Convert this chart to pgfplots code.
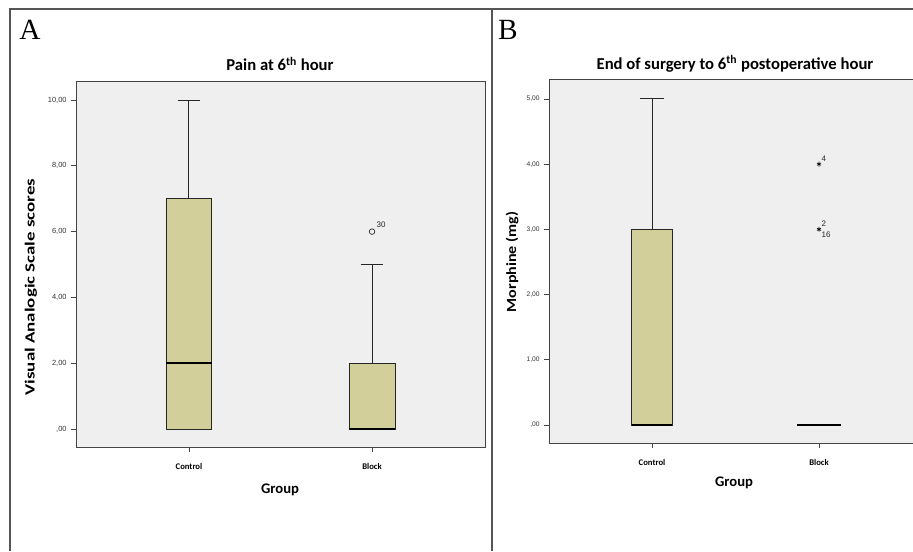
\documentclass[border=0pt]{standalone}
\usepackage{pgfplots}
\pgfplotsset{compat=1.18}
\usepgfplotslibrary{statistics}
\usepackage{fontspec}
\setmainfont{Liberation Sans}
\newfontfamily\carl{Carlito}
\newfontfamily\tnr{Liberation Serif}
\definecolor{boxfill}{HTML}{D3CF9B}
\definecolor{bg}{HTML}{EFEFEF}
\definecolor{frm}{HTML}{555555}
\definecolor{axl}{HTML}{444444}
\pgfplotsset{
  spss/.style={
    scale only axis,
    anchor=south west,
    axis background/.style={fill=bg},
    axis line style={axl, line width=0.75pt},
    tick pos=left,
    tick align=outside,
    major tick length=3.5pt,
    every tick/.style={axl, line width=0.6pt},
    xmin=-0.617, xmax=1.617,
    xtick={0,1},
    xticklabels={Control,Block},
    xticklabel style={font=\carl\bfseries\fontsize{6.5}{7}\selectfont, black, yshift=-5pt},
    yticklabel style={font=\fontsize{5.6}{6}\selectfont, black!80},
    boxplot/draw direction=y,
    boxplot/every box/.style={draw=black!85, fill=boxfill, line width=0.6pt},
    boxplot/every whisker/.style={draw=black!85, line width=0.75pt},
    boxplot/every median/.style={draw=black, line width=1.6pt},
    clip=false,
  }
}
\begin{document}
\begin{tikzpicture}
\useasboundingbox (0,0) rectangle (684.75pt,413.25pt);
\clip (0,0) rectangle (684.75pt,413.25pt);
\fill[white] (0,0) rectangle (684.75pt,413.25pt);
% panel frames
\draw[frm, line width=1.1pt] (7.5pt,0) -- (7.5pt,406.5pt) -- (690pt,406.5pt);
\draw[frm, line width=1.1pt] (369pt,0) -- (369pt,406.5pt);
% panel letters
\node[font=\tnr\fontsize{22}{24}\selectfont] at (22.5pt,390.75pt) {A};
\node[font=\tnr\fontsize{22}{24}\selectfont] at (381pt,390.75pt) {B};
% titles
\node[font=\carl\bfseries\fontsize{12.5}{14}\selectfont] at (210pt,365.25pt) {Pain at 6\textsuperscript{th} hour};
\node[font=\carl\bfseries\fontsize{12.5}{14}\selectfont] at (551.25pt,365.25pt) {End of surgery to 6\textsuperscript{th} postoperative hour};
% y labels
\node[rotate=90, font=\carl\bfseries\fontsize{10.5}{12}\selectfont] at (23.25pt,198pt) {\scalebox{1.35}[1]{Visual Analogic Scale scores}};
\node[rotate=90, font=\carl\bfseries\fontsize{10.5}{12}\selectfont] at (384pt,216.75pt) {\scalebox{1.15}[1]{Morphine (mg)}};
% x labels
\node[font=\carl\bfseries\fontsize{11}{13}\selectfont] at (210pt,45.75pt) {Group};
\node[font=\carl\bfseries\fontsize{11}{13}\selectfont] at (550.5pt,51pt) {Group};
% p values
\node[font=\fontsize{8.5}{10}\selectfont, black!80] at (336pt,338.25pt) {p=0,007};
\node[font=\fontsize{8.5}{10}\selectfont, black!80] at (652.5pt,339.75pt) {p=0,046};

% Panel A
\begin{axis}[spss,
  at={(57pt,78pt)}, width=306.75pt, height=274.5pt,
  ymin=-0.55, ymax=10.58,
  ytick={0,2,4,6,8,10},
  yticklabels={{,00},{2,00},{4,00},{6,00},{8,00},{10,00}},
]
\addplot[boxplot prepared={draw position=0, lower whisker=0, lower quartile=0, median=2, upper quartile=7, upper whisker=10, box extend=0.25, whisker extend=0.125}] coordinates {};
\addplot[boxplot prepared={draw position=1, lower whisker=0, lower quartile=0, median=0, upper quartile=2, upper whisker=5, box extend=0.25, whisker extend=0.125}] coordinates {};
\addplot[only marks, mark=o, mark size=2.1pt, mark options={black!85, line width=0.5pt}] coordinates {(1,6)};
\node[anchor=south west, inner sep=0.5pt, font=\fontsize{6}{7}\selectfont, black!85] at (axis cs:1.02,6.1) {30};
\end{axis}

% Panel B
\begin{axis}[spss,
  at={(411.75pt,81pt)}, width=279.75pt, height=272.25pt,
  ymin=-0.276, ymax=5.29,
  ytick={0,1,2,3,4,5},
  yticklabels={{,00},{1,00},{2,00},{3,00},{4,00},{5,00}},
  yticklabel style={font=\fontsize{5}{6}\selectfont, black!80},
]
\addplot[boxplot prepared={draw position=0, lower whisker=0, lower quartile=0, median=0, upper quartile=3, upper whisker=5, box extend=0.245, whisker extend=0.14}] coordinates {};
\addplot[boxplot prepared={draw position=1, lower whisker=0, lower quartile=0, median=0, upper quartile=0, upper whisker=0, box extend=0.26, whisker extend=0.13}] coordinates {};
\addplot[only marks, mark=asterisk, mark size=1.8pt, mark options={black, line width=0.5pt}] coordinates {(1,4) (1,3)};
\node[anchor=south west, inner sep=0.5pt, font=\fontsize{6}{7}\selectfont, black!85] at (axis cs:1.01,4.03) {4};
\node[anchor=south west, inner sep=0.5pt, font=\fontsize{6}{7}\selectfont, black!85] at (axis cs:1.01,3.03) {2};
\node[anchor=north west, inner sep=0.5pt, font=\fontsize{6}{7}\selectfont, black!85] at (axis cs:1.01,2.97) {16};
\end{axis}
\end{tikzpicture}
\end{document}
